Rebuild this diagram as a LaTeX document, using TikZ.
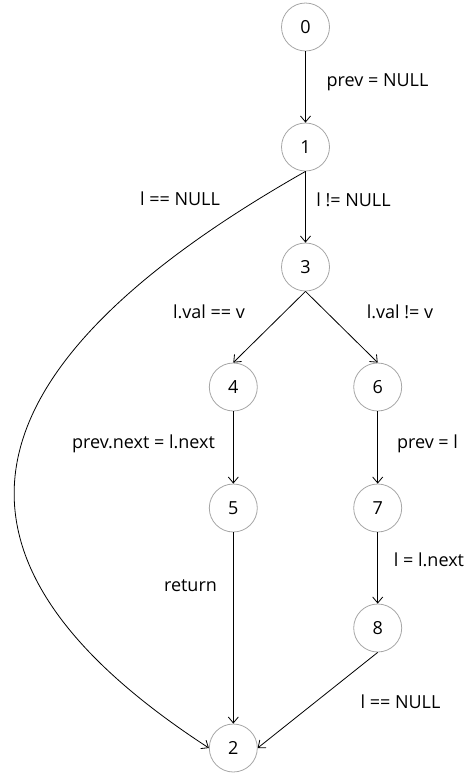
\documentclass[tikz,border=0pt]{standalone}
\usepackage{fontspec}
\setmainfont{Open Sans}
\usetikzlibrary{arrows.meta}
\begin{document}
\begin{tikzpicture}[x=1pt,y=-1pt,
  txt/.style={font=\fontsize{18}{21}\selectfont, text height=13pt, text depth=0pt},
  state/.style={txt, circle, draw=black!35, line width=0.8pt, minimum size=48pt, inner sep=0pt},
  lbl/.style={txt, inner sep=0pt},
  flow/.style={-{Straight Barb[length=6pt,width=10pt]}, line width=0.8pt},
]
\useasboundingbox (0,0) rectangle (471,774);

% states
\node[state] (n0) at (305.5,27)  {0};
\node[state] (n1) at (305.5,147) {1};
\node[state] (n3) at (305.5,267) {3};
\node[state] (n4) at (233.3,387) {4};
\node[state] (n6) at (377.7,387) {6};
\node[state] (n5) at (233.3,508) {5};
\node[state] (n7) at (377.7,508) {7};
\node[state] (n8) at (377.7,628) {8};
\node[state] (n2) at (233.3,748) {2};

% transitions
\draw[flow] (n0) -- (n1);
\draw[flow] (n1) -- (n3);
\draw[flow] (n1.south) .. controls (-84.3,392.7) and (-47.7,581.1) .. (n2.west);
\draw[flow] (n3.south) -- (n4.north);
\draw[flow] (n3.south) -- (n6.north);
\draw[flow] (n4) -- (n5);
\draw[flow] (n5) -- (n2);
\draw[flow] (n6) -- (n7);
\draw[flow] (n7) -- (n8);
\draw[flow] (n8.south) -- (n2.east);

% transition labels
\node[lbl] (l01) at (377.5,80)  {prev = NULL};
\node[lbl] (l12) at (180,199)   {l == NULL};
\node[lbl] (l13) at (353.5,200) {l != NULL};
\node[lbl] (l34) at (209,312)   {l.val == v};
\node[lbl] (l36) at (400,312)   {l.val != v};
\node[lbl] (l45) at (143.5,442) {prev.next = l.next};
\node[lbl] (l67) at (427.5,442) {prev = l};
\node[lbl] (l52) at (190.5,585) {return};
\node[lbl] (l78) at (429,560)   {l = l.next};
\node[lbl] (l82) at (400.5,702) {l == NULL};
\end{tikzpicture}
\end{document}
